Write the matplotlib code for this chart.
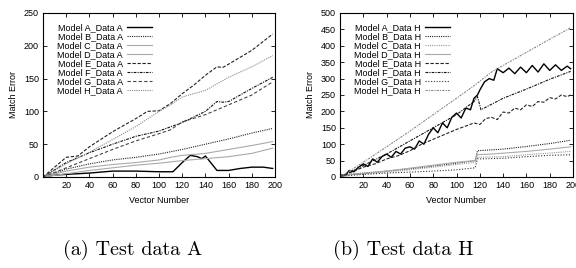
import numpy as np
import matplotlib
matplotlib.use('Agg')
import matplotlib.pyplot as plt

plt.rcParams['font.family'] = ['Liberation Sans', 'DejaVu Sans']

labels = ['A', 'B', 'C', 'D', 'E', 'F', 'G', 'H']

# ---- Test data A ----
xa = {
    'A': [0, 10, 20, 40, 60, 80, 100, 112, 120, 127, 133, 137, 140, 150, 160, 170, 180, 190, 198],
    'B': [0, 20, 40, 60, 80, 100, 120, 140, 160, 180, 198],
    'C': [0, 20, 40, 60, 80, 100, 120, 140, 160, 180, 198],
    'D': [0, 20, 40, 60, 80, 100, 110, 120, 140, 160, 180, 198],
    'E': [0, 20, 25, 30, 40, 60, 80, 90, 100, 110, 120, 130, 140, 150, 155, 160, 180, 198],
    'F': [0, 20, 40, 60, 80, 100, 120, 140, 150, 155, 160, 180, 198],
    'G': [0, 20, 40, 60, 80, 100, 110, 120, 140, 160, 180, 198],
    'H': [0, 10, 20, 40, 60, 80, 100, 110, 120, 140, 160, 180, 198],
}
ya = {
    'A': [0, 3, 4, 6, 9, 9, 8, 8, 22, 33, 31, 28, 32, 10, 10, 13, 15, 15, 13],
    'B': [0, 12, 20, 26, 30, 35, 42, 50, 58, 67, 74],
    'C': [0, 5, 10, 14, 18, 21, 25, 28, 31, 36, 44],
    'D': [0, 9, 15, 19, 22, 26, 30, 33, 36, 42, 48, 54],
    'E': [0, 30, 31, 32, 46, 69, 89, 100, 101, 112, 127, 140, 155, 168, 167, 172, 193, 218],
    'F': [0, 22, 37, 50, 62, 70, 83, 100, 115, 114, 115, 135, 152],
    'G': [0, 14, 28, 42, 55, 66, 72, 84, 95, 110, 125, 145],
    'H': [0, 10, 20, 38, 57, 77, 100, 110, 122, 132, 152, 168, 185],
}

# ---- Test data H ----
xh = {
    'A': [0, 4, 8, 12, 16, 20, 24, 28, 32, 36, 40, 44, 48, 52, 56, 60, 64, 68, 72, 76, 80,
          84, 88, 92, 96, 100, 104, 108, 112, 115, 118, 120, 124, 128, 132, 135, 140, 145,
          150, 155, 160, 165, 170, 175, 180, 185, 190, 195, 198],
    'B': [0, 20, 40, 60, 80, 100, 116, 118, 140, 160, 180, 198],
    'C': [0, 20, 40, 60, 80, 100, 116, 118, 140, 160, 180, 198],
    'D': [0, 20, 40, 60, 80, 100, 116, 118, 130, 160, 180, 198],
    'E': [0, 10, 20, 30, 40, 50, 60, 70, 80, 90, 100, 110, 115, 120, 125, 130, 135, 140,
          145, 150, 155, 160, 165, 170, 175, 180, 185, 190, 195, 198],
    'F': [0, 20, 40, 60, 80, 100, 115, 118, 121, 140, 160, 180, 198],
    'G': [0, 20, 40, 60, 80, 100, 116, 118, 140, 160, 180, 198],
    'H': [0, 10, 20, 40, 60, 80, 100, 115, 130, 140, 160, 180, 198],
}
yh = {
    'A': [8, 4, 20, 16, 30, 40, 32, 55, 45, 62, 70, 60, 78, 70, 88, 92, 85, 110, 100, 130,
          150, 135, 165, 150, 182, 195, 180, 210, 205, 240, 250, 265, 290, 300, 295, 330,
          318, 332, 315, 335, 318, 340, 320, 345, 325, 342, 325, 338, 330],
    'B': [5, 12, 18, 25, 33, 42, 50, 80, 85, 93, 102, 112],
    'C': [5, 10, 15, 22, 30, 38, 45, 60, 62, 68, 73, 78],
    'D': [5, 10, 18, 27, 36, 45, 50, 68, 70, 78, 85, 92],
    'E': [0, 15, 30, 40, 55, 65, 80, 100, 115, 130, 145, 158, 165, 160, 178, 182, 175,
          198, 195, 210, 205, 220, 215, 230, 228, 242, 238, 250, 245, 250],
    'F': [0, 35, 70, 110, 150, 190, 230, 245, 205, 240, 268, 298, 322],
    'G': [2, 8, 12, 15, 18, 22, 28, 55, 57, 62, 66, 68],
    'H': [0, 22, 45, 92, 140, 190, 240, 278, 320, 340, 380, 420, 455],
}

styles_a = {
    'A': dict(color='black', ls='-', lw=1.0),
    'B': dict(color='#222222', ls=(0, (1, 1)), lw=0.8),
    'C': dict(color='#aaaaaa', ls='-', lw=0.8),
    'D': dict(color='#aaaaaa', ls='-', lw=0.8),
    'E': dict(color='#222222', ls=(0, (3, 1.5)), lw=0.8),
    'F': dict(color='#111111', ls=(0, (2.5, 1, 1, 1)), lw=0.8),
    'G': dict(color='#444444', ls=(0, (3, 2)), lw=0.8),
    'H': dict(color='#888888', ls=(0, (1, 1)), lw=0.8),
}
styles_h = {
    'A': dict(color='black', ls='-', lw=1.0),
    'B': dict(color='#222222', ls=(0, (1, 1)), lw=0.8),
    'C': dict(color='#999999', ls=(0, (1, 1)), lw=0.8),
    'D': dict(color='#aaaaaa', ls='-', lw=0.8),
    'E': dict(color='#222222', ls=(0, (3, 1.5)), lw=0.8),
    'F': dict(color='#111111', ls=(0, (2.5, 1, 1, 1)), lw=0.8),
    'G': dict(color='#333333', ls=(0, (1, 1.5)), lw=0.8),
    'H': dict(color='#888888', ls=(0, (2, 1, 1, 1)), lw=0.8),
}

fig = plt.figure(figsize=(5.76, 2.68), dpi=100)
W, H = 576, 268
ax1 = fig.add_axes([43 / W, (H - 177) / H, 232 / W, 164 / H])
ax2 = fig.add_axes([340 / W, (H - 177) / H, 233 / W, 164 / H])


def draw(ax, xs, ys, styles, tag, ymax, ystep):
    for k in labels:
        ax.plot(xs[k], ys[k], label='Model %s_Data %s' % (k, tag), **styles[k])
    ax.set_xlim(0, 200)
    ax.set_ylim(0, ymax)
    ax.set_xticks(np.arange(20, 201, 20))
    ax.set_yticks(np.arange(0, ymax + 1, ystep))
    ax.tick_params(direction='in', top=True, right=True, labelsize=6.5,
                   length=3, width=0.6, pad=3)
    for s in ax.spines.values():
        s.set_linewidth(0.8)
    ax.set_xlabel('Vector Number', fontsize=6.5, labelpad=4)
    ax.set_ylabel('Match Error', fontsize=6.5, labelpad=4)
    ax.legend(loc='upper left', bbox_to_anchor=(0.06, 0.94), frameon=False,
              markerfirst=False, fontsize=6.5, labelspacing=0.0,
              handlelength=2.8, handletextpad=0.4, borderpad=0, borderaxespad=0)


draw(ax1, xa, ya, styles_a, 'A', 250, 50)
draw(ax2, xh, yh, styles_h, 'H', 500, 50)

fig.text(133 / W, 1 - 250 / H, '(a) Test data A', family='cmr10', fontsize=14.5,
         ha='center', va='center')
fig.text(403 / W, 1 - 250 / H, '(b) Test data H', family='cmr10', fontsize=14.5,
         ha='center', va='center')

fig.savefig('out.png', dpi=100)
